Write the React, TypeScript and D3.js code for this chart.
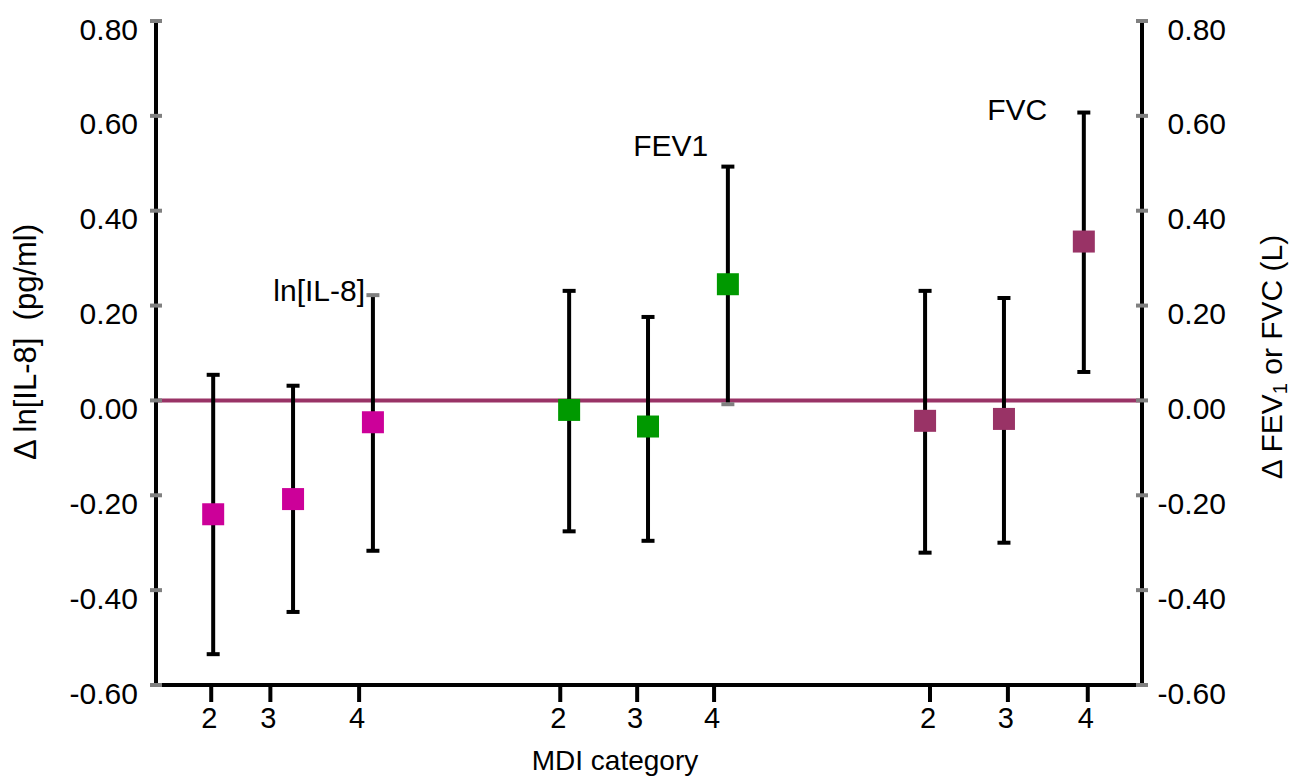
import React from "react";
import * as d3 from "d3";

const width = 1294;
const height = 777;
const margin = { top: 21, right: 152, bottom: 92, left: 156 };

// y values (change from baseline), shared by both axes
const yTicks = [0.8, 0.6, 0.4, 0.2, 0, -0.2, -0.4, -0.6];

// MDI categories, repeated for the three outcomes
const outcomes = ["ln[IL-8]", "FEV1", "FVC"];
const mdiLabels = ["2", "3", "4", "2", "3", "4", "2", "3", "4"];
// position along the x axis, percent of axis length
const tickPos = [5.6, 11.6, 20.6, 41.0, 48.8, 56.6, 78.5, 86.4, 94.5];
const pointPos = [5.8, 13.9, 22.0, 41.9, 49.9, 58.0, 78.0, 86.0, 94.1];

const means = [-0.24, -0.208, -0.046, -0.02, -0.055, 0.245, -0.043, -0.039, 0.335];
const upper = [0.054, 0.031, 0.222, 0.231, 0.176, 0.493, 0.231, 0.216, 0.607];
const lower = [-0.535, -0.446, -0.317, -0.276, -0.296, -0.008, -0.321, -0.3, 0.06];
const groupOf = [0, 0, 0, 1, 1, 1, 2, 2, 2];

const colors = ["#cc0099", "#009900", "#993366"];
const font = "'Liberation Sans', Arial, sans-serif";

const App = () => {
  const x0 = margin.left;
  const x1 = width - margin.right;
  const xScale = d3.scaleLinear().domain([0, 100]).range([x0, x1]);
  const yScale = d3
    .scaleLinear()
    .domain([-0.6, 0.8])
    .range([height - margin.bottom, margin.top]);
  const yb = yScale(-0.6);
  // plain hyphen for negatives, as in the original
  const fmt = (v: number) => d3.format(".2f")(v).replace("\u2212", "-");

  // caps that show up grey in the original
  const greyTop = (i: number) => i === 2;
  const greyBottom = (i: number) => i === 5;

  return (
    <svg
      width={width}
      height={height}
      style={{ position: "absolute", left: 0, top: 0, background: "#fff" }}
      fontFamily={font}
    >
      {/* zero reference line */}
      <line x1={x0} x2={x1} y1={yScale(0)} y2={yScale(0)} stroke="#993366" strokeWidth={4} />

      {/* axes */}
      <line x1={x0} x2={x0} y1={yScale(0.8)} y2={yb + 2} stroke="#000" strokeWidth={4} />
      <line x1={x1} x2={x1} y1={yScale(0.8)} y2={yb + 2} stroke="#000" strokeWidth={4} />
      <line x1={x0} x2={x1 + 2} y1={yb} y2={yb} stroke="#000" strokeWidth={4} />

      {yTicks.map(t => (
        <g key={t}>
          <line x1={x0 - 6} x2={x0 + 6} y1={yScale(t)} y2={yScale(t)} stroke="#808080" strokeWidth={4} />
          <line x1={x1 - 6} x2={x1 + 6} y1={yScale(t)} y2={yScale(t)} stroke="#808080" strokeWidth={4} />
          <text x={138} y={yScale(t) + 18.5} textAnchor="end" fontSize={30}>
            {fmt(t)}
          </text>
          <text x={1226} y={yScale(t) + 18.5} textAnchor="end" fontSize={30}>
            {fmt(t)}
          </text>
        </g>
      ))}

      {tickPos.map((p, i) => (
        <g key={i}>
          <line x1={xScale(p)} x2={xScale(p)} y1={yb} y2={yb + 17} stroke="#000" strokeWidth={4} />
          <text x={xScale(p) - 2} y={yb + 43} textAnchor="middle" fontSize={29}>
            {mdiLabels[i]}
          </text>
        </g>
      ))}

      {/* error bars */}
      {pointPos.map((p, i) => {
        const cx = xScale(p);
        return (
          <g key={i}>
            <line x1={cx} x2={cx} y1={yScale(upper[i])} y2={yScale(lower[i])} stroke="#000" strokeWidth={4} />
            <line
              x1={cx - 6.5}
              x2={cx + 6.5}
              y1={yScale(upper[i])}
              y2={yScale(upper[i])}
              stroke={greyTop(i) ? "#808080" : "#000"}
              strokeWidth={4}
            />
            <line
              x1={cx - 6.5}
              x2={cx + 6.5}
              y1={yScale(lower[i])}
              y2={yScale(lower[i])}
              stroke={greyBottom(i) ? "#808080" : "#000"}
              strokeWidth={4}
            />
          </g>
        );
      })}

      {/* point estimates */}
      {pointPos.map((p, i) => (
        <rect
          key={i}
          x={xScale(p) - 11}
          y={yScale(means[i]) - 11}
          width={22}
          height={22}
          fill={colors[groupOf[i]]}
        />
      ))}

      {/* outcome labels */}
      <text x={xScale(21.2)} y={yScale(0.21)} textAnchor="end" fontSize={30}>
        {outcomes[0]}
      </text>
      <text x={xScale(48.4)} y={yScale(0.515)} fontSize={30}>
        {outcomes[1]}
      </text>
      <text x={xScale(84.3)} y={yScale(0.591)} fontSize={30}>
        {outcomes[2]}
      </text>

      {/* axis titles */}
      <text x={615} y={770} textAnchor="middle" fontSize={28}>
        MDI category
      </text>
      <text
        transform={`translate(36, 342) rotate(-90)`}
        textAnchor="middle"
        fontSize={31}
        style={{ whiteSpace: "pre" }}
      >
        {"Δ ln[IL-8]  (pg/ml)"}
      </text>
      <text transform={`translate(1282, 357) rotate(-90)`} textAnchor="middle" fontSize={30}>
        Δ FEV
        <tspan fontSize={20} dy={5}>
          1
        </tspan>
        <tspan dy={-5}> or FVC (L)</tspan>
      </text>
    </svg>
  );
};

export default App;
